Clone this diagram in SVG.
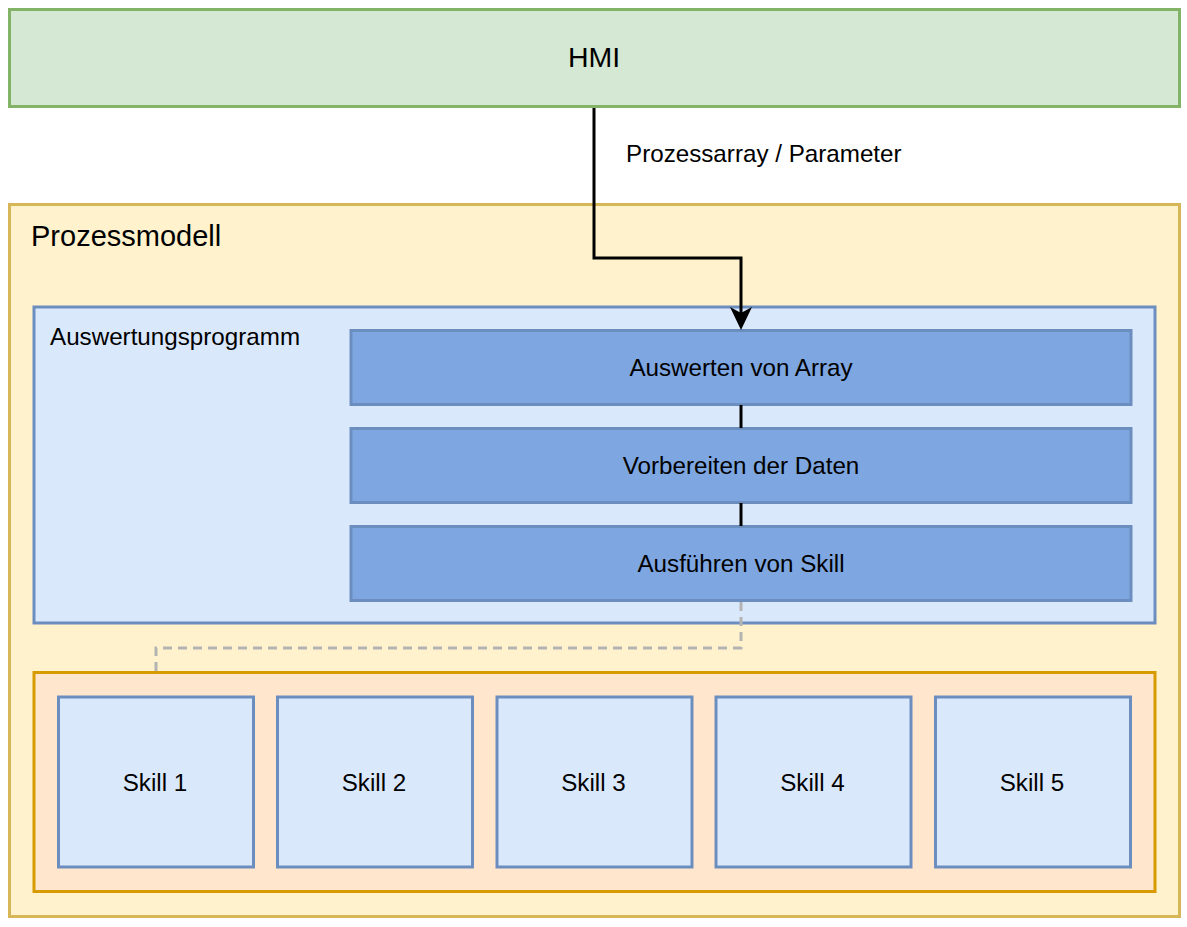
<svg xmlns="http://www.w3.org/2000/svg" width="1187" height="927" viewBox="0 0 1187 927">
<defs>
<style>
text{font-family:"Liberation Sans",Arial,sans-serif;fill:#000;}
.t{font-size:24.2px;}
.c{text-anchor:middle;}
.hmi{fill:#d5e8d4;stroke:#82b366;stroke-width:3;}
.pm{fill:#fff2cc;stroke:#d6b656;stroke-width:3;}
.ap{fill:#dae8fc;stroke:#6c8ebf;stroke-width:3;}
.step{fill:#7ea6e0;stroke:#6c8ebf;stroke-width:3;}
.sc{fill:#ffe6cc;stroke:#d79b00;stroke-width:3;}
.sk{fill:#dae8fc;stroke:#6c8ebf;stroke-width:3;}
.edge{fill:none;stroke:#000;stroke-width:3;}
.dash{fill:none;stroke:#b3b3b3;stroke-width:3;stroke-dasharray:9 6;}
</style>
<marker id="arr" markerUnits="userSpaceOnUse" viewBox="0 0 23 22" markerWidth="23" markerHeight="22" refX="13" refY="11" orient="auto">
<path d="M0,0 L23,11 L0,22 L6,11 Z" fill="#000"/>
</marker>
</defs>
<g id="hmi">
<rect class="hmi" x="9.5" y="9.5" width="1170" height="97"/>
<text x="594" y="67" class="c" style="font-size:28.5px">HMI</text>
</g>
<g id="prozessmodell">
<rect class="pm" x="9.5" y="204.5" width="1170" height="712"/>
<text x="31" y="246" style="font-size:29px">Prozessmodell</text>
</g>
<g id="auswertungsprogramm">
<rect class="ap" x="34" y="307" width="1121" height="316"/>
<text x="50" y="345" class="t">Auswertungsprogramm</text>
</g>
<g id="auswerten">
<rect class="step" x="351" y="330.5" width="780" height="74"/>
<text x="741" y="376" class="t c">Auswerten von Array</text>
</g>
<g id="vorbereiten">
<rect class="step" x="351" y="428.5" width="780" height="74"/>
<text x="741" y="474" class="t c">Vorbereiten der Daten</text>
</g>
<g id="ausfuehren">
<rect class="step" x="351" y="526.5" width="780" height="74"/>
<text x="741" y="572" class="t c">Ausführen von Skill</text>
</g>
<g id="skills">
<rect class="sc" x="34" y="672.5" width="1121" height="219"/>
</g>
<g id="skill1"><rect class="sk" x="58.5" y="697" width="195" height="170"/><text x="155" y="791" class="t c">Skill 1</text></g>
<g id="skill2"><rect class="sk" x="277.5" y="697" width="195" height="170"/><text x="374" y="791" class="t c">Skill 2</text></g>
<g id="skill3"><rect class="sk" x="497" y="697" width="195" height="170"/><text x="593.5" y="791" class="t c">Skill 3</text></g>
<g id="skill4"><rect class="sk" x="716" y="697" width="195" height="170"/><text x="812.5" y="791" class="t c">Skill 4</text></g>
<g id="skill5"><rect class="sk" x="935.5" y="697" width="195" height="170"/><text x="1032" y="791" class="t c">Skill 5</text></g>
<g id="connectors">
<path class="edge" d="M594,108 V258 H741 V320" marker-end="url(#arr)"/>
<text x="626" y="162" class="t">Prozessarray / Parameter</text>
<path class="edge" d="M741,405 V428"/>
<path class="edge" d="M741,503 V526"/>
<path class="dash" d="M741,602 V648 H156 V671"/>
</g>
</svg>
